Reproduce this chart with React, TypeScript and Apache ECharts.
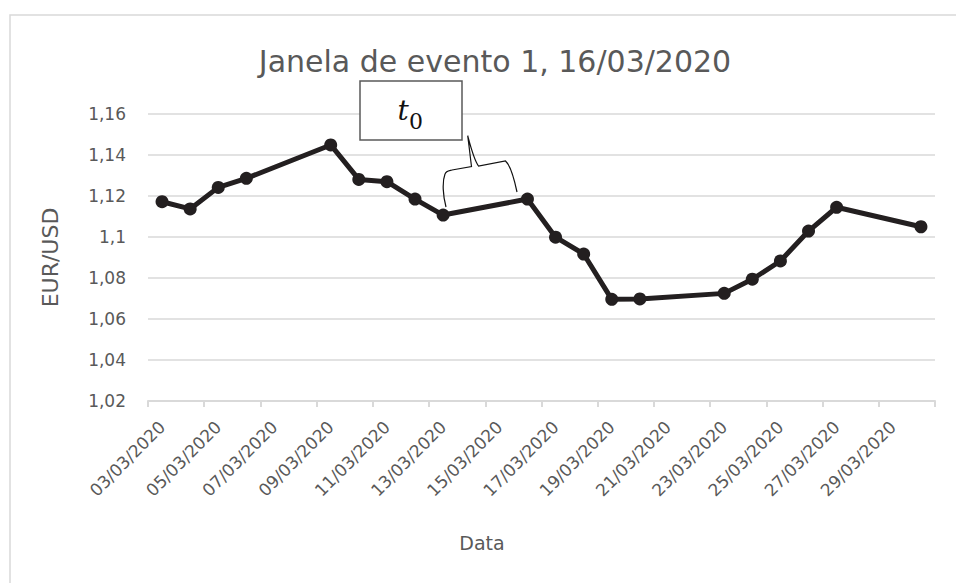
import React, { useEffect, useRef } from 'react';
import * as echarts from 'echarts';

const dates = [
  '03/03/2020', '04/03/2020', '05/03/2020', '06/03/2020', '07/03/2020', '08/03/2020', '09/03/2020',
  '10/03/2020', '11/03/2020', '12/03/2020', '13/03/2020', '14/03/2020', '15/03/2020', '16/03/2020',
  '17/03/2020', '18/03/2020', '19/03/2020', '20/03/2020', '21/03/2020', '22/03/2020', '23/03/2020',
  '24/03/2020', '25/03/2020', '26/03/2020', '27/03/2020', '28/03/2020', '29/03/2020', '30/03/2020',
];

const eurUsd = [
  1.1172, 1.1137, 1.1242, 1.1286, null, null, 1.1449,
  1.1281, 1.1270, 1.1185, 1.1107, null, null, 1.1185,
  1.0999, 1.0917, 1.0696, 1.0698, null, null, 1.0725,
  1.0794, 1.0883, 1.1029, 1.1145, null, null, 1.1050,
];

const yMin = 1.02;
const yMax = 1.16;
const yStep = 0.02;

const titleText = 'Janela de evento 1, 16/03/2020';
const xName = 'Data';
const yName = 'EUR/USD';

const FONT = 'DejaVu Sans';
const GREY = '#595959';

let registered = false;
function registerBrace() {
  if (registered) return;
  const d =
    'M446 207 C443 196 442 182 445 174 C446 171 448 171 452 170 L471.5 166.5 C470 155 469 145 467.7 135.7 C471 148 474 160 478.5 166 L505.5 161 C510 165 514 178 517 192';
  echarts.graphic.registerShape('brace', echarts.graphic.extendPath(d, {}));
  registered = true;
}

export default function App() {
  const ref = useRef<HTMLDivElement>(null);
  useEffect(() => {
    if (!ref.current) return;
    registerBrace();
    const chart = echarts.init(ref.current, null, { renderer: 'svg' });
    chart.setOption({
      animation: false,
      backgroundColor: '#ffffff',
      title: {
        text: titleText,
        left: 490,
        top: 41,
        textAlign: 'center',
        textStyle: { fontFamily: FONT, fontSize: 30, fontWeight: 'normal', color: GREY },
      },
      grid: { left: 148, right: 21, top: 114, bottom: 182, outerBoundsMode: 'none', containLabel: false },
      xAxis: {
        type: 'category',
        data: dates,
        boundaryGap: true,
        axisLine: { show: true, lineStyle: { color: '#d9d9d9', width: 2 } },
        axisTick: { show: true, interval: 1, length: 6, lineStyle: { color: '#d9d9d9', width: 2 } },
        axisLabel: {
          interval: 1,
          rotate: 45,
          margin: 23,
          color: GREY,
          fontFamily: FONT,
          fontSize: 17,
        },
        splitLine: { show: false },
      },
      yAxis: {
        type: 'value',
        min: yMin,
        max: yMax,
        interval: yStep,
        name: yName,
        nameLocation: 'middle',
        nameRotate: 90,
        nameGap: 87,
        nameTextStyle: { fontFamily: FONT, fontSize: 22, color: GREY },
        axisLine: { show: false },
        axisTick: { show: false },
        axisLabel: {
          margin: 22,
          color: GREY,
          fontFamily: FONT,
          fontSize: 17,
          formatter: (v: number) => String(Math.round(v * 100) / 100).replace('.', ','),
        },
        splitLine: { show: true, lineStyle: { color: '#d9d9d9', width: 1.5 } },
      },
      series: [
        {
          type: 'line',
          data: eurUsd,
          connectNulls: true,
          symbol: 'circle',
          symbolSize: 13,
          itemStyle: { color: '#231f20' },
          lineStyle: { color: '#231f20', width: 5 },
          z: 3,
        },
      ],
      graphic: [
        {
          type: 'rect',
          z: -1,
          silent: true,
          shape: { x: 10, y: 15, width: 2000, height: 2000 },
          style: { fill: 'none', stroke: '#d9d9d9', lineWidth: 1.5 },
        },
        {
          type: 'text',
          x: 482,
          y: 543,
          style: { text: xName, fontFamily: FONT, fontSize: 19, fill: GREY, align: 'center', verticalAlign: 'middle' },
        },
        {
          type: 'rect',
          z: 10,
          shape: { x: 360, y: 81, width: 102, height: 59 },
          style: { fill: '#ffffff', stroke: '#595959', lineWidth: 1.5 },
        },
        {
          type: 'text',
          z: 11,
          x: 403,
          y: 110,
          style: {
            text: 't',
            fontFamily: 'DejaVu Serif',
            fontStyle: 'italic',
            fontSize: 28,
            fill: '#111111',
            align: 'center',
            verticalAlign: 'middle',
          },
        },
        {
          type: 'text',
          z: 11,
          x: 416,
          y: 121,
          style: {
            text: '0',
            fontFamily: 'DejaVu Serif',
            fontSize: 22,
            fill: '#111111',
            align: 'center',
            verticalAlign: 'middle',
          },
        },
        {
          type: 'brace',
          z: 10,
          x: 0,
          y: 0,
          style: { fill: 'none', stroke: '#111111', lineWidth: 1.2 },
        },
      ],
    });
    return () => chart.dispose();
  }, []);
  return <div ref={ref} style={{ position: 'fixed', left: 0, top: 0, width: 956, height: 583 }} />;
}
